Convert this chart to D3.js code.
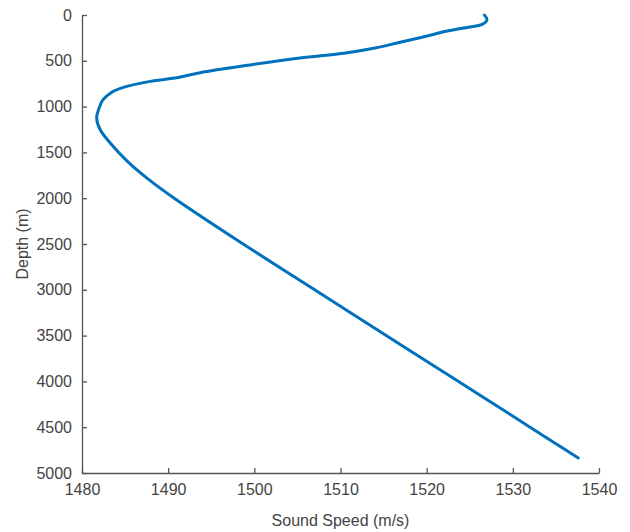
<!DOCTYPE html>
<html>
<head>
<meta charset="utf-8">
<script src="https://cdn.jsdelivr.net/npm/d3@7"></script>
<style>
html,body{margin:0;padding:0;background:#fff;}
svg{display:block;}
text{font-family:"Liberation Sans",Arial,Helvetica,sans-serif;}
</style>
</head>
<body>
<svg id="chart" width="630" height="532"></svg>
<script>
// Depth (m)
const depth = [0,50,100,130,175,240,300,360,415,470,545,630,680,730,790,840,930,1040,1120,1250,1400,1600,1800,2000,2500,3000,3500,4000,4500,4836];
// Sound speed (m/s)
const speed = [1526.7,1527.0,1526.5,1525.0,1522.4,1519.6,1516.8,1514.0,1510.6,1505.3,1499.5,1493.7,1491.3,1487.6,1484.8,1483.5,1482.4,1481.9,1481.7,1482.1,1483.3,1485.3,1487.8,1490.7,1498.7,1507.0,1515.3,1523.7,1532.0,1537.6];
const xTicks = [1480,1490,1500,1510,1520,1530,1540];
const yTicks = [0,500,1000,1500,2000,2500,3000,3500,4000,4500,5000];
const xLabel = "Sound Speed (m/s)";
const yLabel = "Depth (m)";

(function(){
const svg = d3.select("#chart");
const mL = 82, mR = 599, mT = 15, mB = 473;
const x = d3.scaleLinear().domain([1480,1540]).range([mL,mR]);
const y = d3.scaleLinear().domain([0,5000]).range([mT,mB]);
const axisColor = "#555";
const textColor = "#444";

const xAxis = svg.append("g").attr("transform",`translate(0,${mB})`)
  .call(d3.axisBottom(x).tickValues(xTicks).tickFormat(d3.format("d")).tickSizeInner(-5).tickSizeOuter(0).tickPadding(11));
const yAxis = svg.append("g").attr("transform",`translate(${mL},0)`)
  .call(d3.axisLeft(y).tickValues(yTicks).tickFormat(d3.format("d")).tickSizeInner(-5).tickSizeOuter(0).tickPadding(10));
[xAxis,yAxis].forEach(g=>{
  g.select(".domain").attr("stroke",axisColor).attr("stroke-width",1.3);
  g.selectAll(".tick line").attr("stroke",axisColor).attr("stroke-width",1.3);
  g.selectAll(".tick text").attr("fill",textColor).style("font-size","16px");
});

const pts = depth.map((d,i)=>[speed[i],d]);
svg.append("path").datum(pts)
  .attr("fill","none").attr("stroke","#0072BD").attr("stroke-width",3)
  .attr("stroke-linejoin","round").attr("stroke-linecap","round")
  .attr("d", d3.line().x(p=>x(p[0])).y(p=>y(p[1])).curve(d3.curveCatmullRom));

svg.append("text").attr("x",(mL+mR)/2).attr("y",526).attr("text-anchor","middle")
  .attr("fill",textColor).style("font-size","16px").text(xLabel);
svg.append("text").attr("transform",`translate(28,${(mT+mB)/2}) rotate(-90)`).attr("text-anchor","middle")
  .attr("fill",textColor).style("font-size","16px").text(yLabel);
})();
</script>
</body>
</html>
